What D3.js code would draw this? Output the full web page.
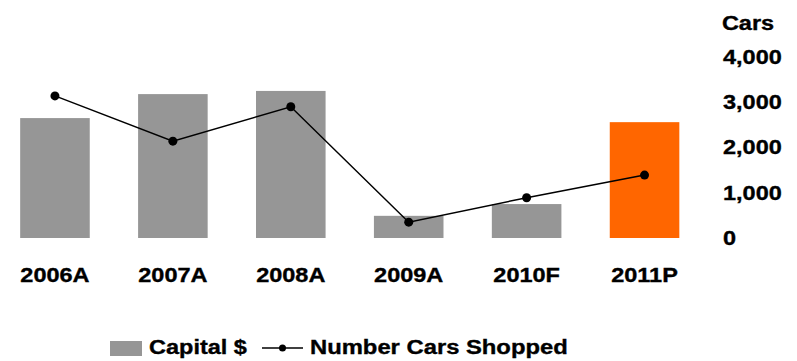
<!DOCTYPE html>
<html>
<head>
<meta charset="utf-8">
<script src="https://cdn.jsdelivr.net/npm/d3@7"></script>
<style>
  html, body { margin: 0; padding: 0; background: #fff; }
  svg { display: block; font-family: "Liberation Sans", Arial, sans-serif; font-weight: bold; }
</style>
</head>
<body>
<svg id="chart" width="797" height="361"></svg>
<script>
// Fiscal periods (A = actual, F = forecast, P = plan)
const categories = ["2006A", "2007A", "2008A", "2009A", "2010F", "2011P"];
// Capital spend ($M) drawn as bars
const capitalValues = [26.5, 31.8, 32.5, 4.9, 7.5, 25.6];
// Number of cars shopped, drawn as a line on the right axis
const carsShopped = [3140, 2140, 2900, 350, 890, 1390];
// Right-axis ticks
const carTicks = [0, 1000, 2000, 3000, 4000];
const highlightCategory = "2011P";

const FONT = "Liberation Sans, Arial, sans-serif";
const FONT_SIZE = 20;
const WIDEN = "scale(1.175,1)";   // wide bold lettering

const svg = d3.select("#chart");

const x = d3.scaleBand()
  .domain(categories)
  .range([-4, 703.5])
  .paddingInner(0.41)
  .paddingOuter(0.205);

const yCars = d3.scaleLinear().domain([0, 4000]).range([238, 57]);
const yCap = d3.scaleLinear().domain([0, 40]).range([238, 57]);

// Bars
svg.append("g")
  .selectAll("rect")
  .data(categories)
  .join("rect")
  .attr("x", d => x(d))
  .attr("width", x.bandwidth())
  .attr("y", (d, i) => yCap(capitalValues[i]))
  .attr("height", (d, i) => yCap(0) - yCap(capitalValues[i]))
  .attr("fill", d => d === highlightCategory ? "#FF6600" : "#969696");

// Line of cars shopped
const cx = (d, i) => x(categories[i]) + x.bandwidth() / 2;
const line = d3.line().x(cx).y(d => yCars(d));

svg.append("path")
  .datum(carsShopped)
  .attr("d", line)
  .attr("fill", "none")
  .attr("stroke", "#000")
  .attr("stroke-width", 1.5);

svg.append("g")
  .selectAll("circle")
  .data(carsShopped)
  .join("circle")
  .attr("cx", cx)
  .attr("cy", d => yCars(d))
  .attr("r", 4.5)
  .attr("fill", "#000");

// Heavy black lettering used for every label
function styleText(sel) {
  sel.attr("font-family", FONT)
    .attr("font-weight", "bold")
    .attr("font-size", FONT_SIZE)
    .attr("fill", "#000")
    .attr("stroke", "#000")
    .attr("stroke-width", 0.35);
}

// Category labels
const xAxis = d3.axisBottom(x).tickSize(0).tickPadding(0);
const xg = svg.append("g").attr("transform", "translate(0,268)").call(xAxis);
xg.select(".domain").remove();
xg.selectAll("text").call(styleText).attr("transform", WIDEN);

// Right axis: cars
const yAxis = d3.axisRight(yCars).tickValues(carTicks).tickSize(0).tickPadding(0)
  .tickFormat(d3.format(","));
const yg = svg.append("g").attr("transform", "translate(723,0)").call(yAxis);
yg.select(".domain").remove();
yg.selectAll("text").call(styleText).attr("transform", WIDEN);

svg.append("g").attr("transform", "translate(748,30)")
  .append("text")
  .attr("text-anchor", "middle")
  .call(styleText)
  .attr("transform", WIDEN)
  .text("Cars");

// Legend
const legend = svg.append("g").attr("transform", "translate(0,348)");
legend.append("rect")
  .attr("x", 110).attr("y", -7).attr("width", 32).attr("height", 15)
  .attr("fill", "#969696");
legend.append("g").attr("transform", "translate(149,6)")
  .append("text")
  .call(styleText)
  .attr("transform", WIDEN)
  .text("Capital $");
legend.append("line")
  .attr("x1", 262).attr("x2", 303).attr("y1", 0).attr("y2", 0)
  .attr("stroke", "#000").attr("stroke-width", 1.5);
legend.append("circle")
  .attr("cx", 282.5).attr("cy", 0).attr("r", 3.5).attr("fill", "#000");
legend.append("g").attr("transform", "translate(310,6)")
  .append("text")
  .call(styleText)
  .attr("transform", "scale(1.19,1)")
  .text("Number Cars Shopped");
</script>
</body>
</html>
